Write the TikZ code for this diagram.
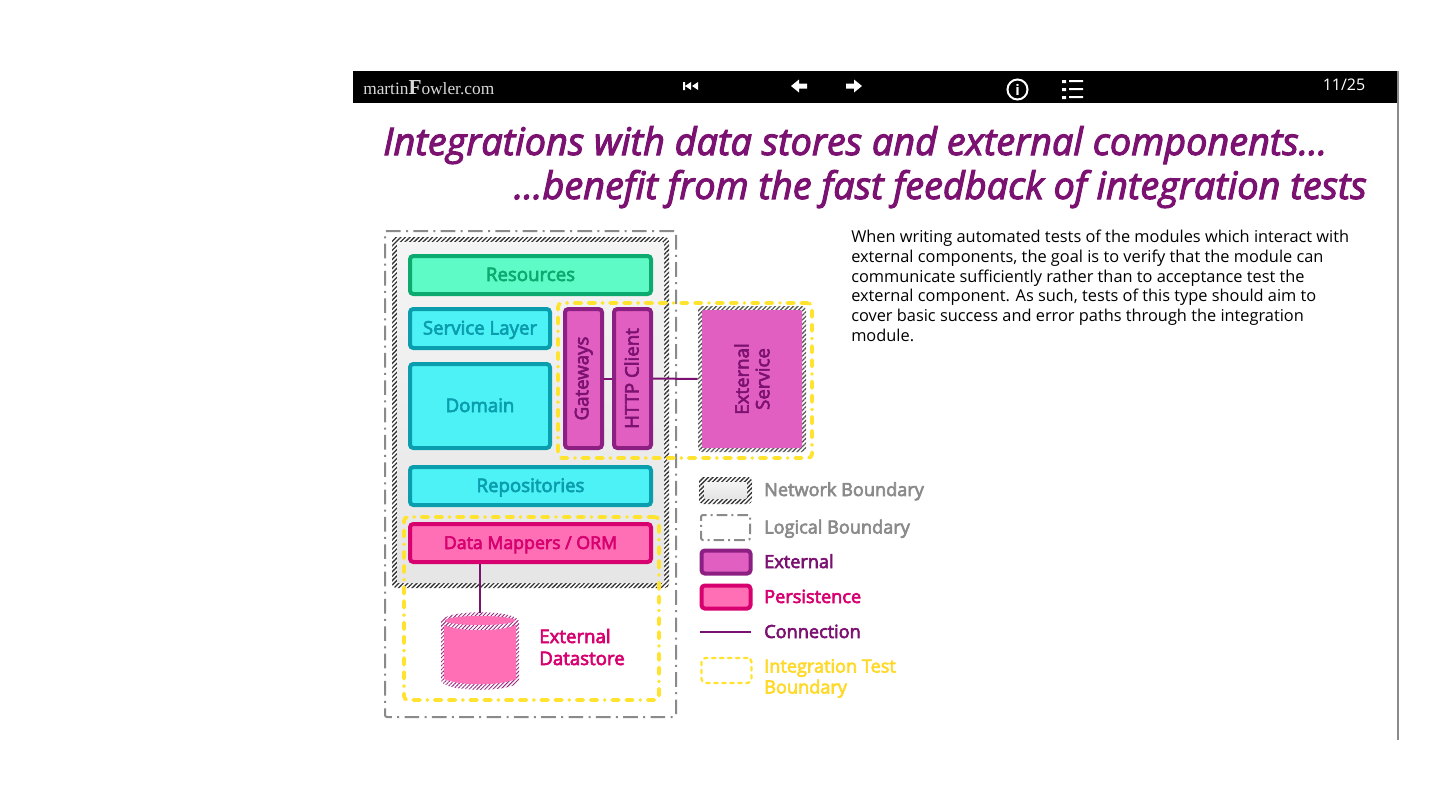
\documentclass[tikz,border=0pt]{standalone}
\usepackage{fontspec}
\setmainfont{Open Sans}
\newfontfamily\logofont{Liberation Serif}
\newfontfamily\semifont[FakeBold=3.4]{Open Sans}
\newfontfamily\titlefont[ItalicFeatures={FakeBold=2.8}]{Open Sans}
\usetikzlibrary{patterns.meta}
\definecolor{conncolor}{HTML}{7B1170}
\definecolor{resfill}{HTML}{5FFBC6}
\definecolor{resline}{HTML}{0DAA70}
\definecolor{corefill}{HTML}{4CF2F6}
\definecolor{coreline}{HTML}{0A9DAE}
\definecolor{extfill}{HTML}{E25FC2}
\definecolor{extline}{HTML}{8C1F82}
\definecolor{perfill}{HTML}{FF6FB5}
\definecolor{perline}{HTML}{D6006F}
\definecolor{boundgray}{HTML}{8A8A8A}
\definecolor{testyellow}{HTML}{FFE32E}
\newcommand{\sidelabel}[1]{\rotatebox{90}{\rule[-1.5pt]{0pt}{12pt}#1}}
\tikzset{
  boxsize/.style 2 args={minimum width=#1*0.75pt,minimum height=#2*0.75pt,inner sep=0pt},
  solidbox/.style 2 args={draw=#2,fill=#1,line width=3pt,rounded corners=2.5pt,font=\semifont\fontsize{14}{16}\selectfont,text=#2},
  flatlabel/.style={text height=10.5pt,text depth=1.5pt},
  hatchbox/.style n args={4}{rounded corners=3pt,inner sep=0pt,
    preaction={fill=white},
    pattern={Lines[angle=45,distance=2.4pt,line width=1pt]},pattern color=#1,
    path picture={\shade[reset cm,rounded corners=1.5pt,top color=#2,bottom color=#3]
      ([shift={(#4,-#4)}]path picture bounding box.north west) rectangle
      ([shift={(-#4,#4)}]path picture bounding box.south east);}},
  logicalbox/.style={draw=boundgray,line width=1.5pt,rounded corners=1.5pt,dash pattern=on 11pt off 4pt on 1.5pt off 4pt},
  testbox/.style={draw=testyellow,line width=2.8pt,rounded corners=3pt,line cap=round,
    dash pattern=on 5pt off 5.5pt on 5pt off 5.5pt on 0.1pt off 5.5pt},
  connline/.style={draw=conncolor,line width=1.5pt},
  legendtext/.style={anchor=base west,inner sep=0pt,align=left,font=\semifont\fontsize{13.6}{15.7}\selectfont},
  toolicon/.style={fill=white,draw=none},
}
\begin{document}
\begin{tikzpicture}[x=0.75pt,y=0.75pt,yscale=-1,xscale=1]
\useasboundingbox (0,0) rectangle (1440,810);

%Top bar
\node[fill=black,boxsize={1044}{32},anchor=north west] (topbar) at (353,71) {};
\node[fill=boundgray,boxsize={2}{669},anchor=north west] (sideline) at (1397,71) {};

% Text Node
\node[anchor=base west,inner sep=0pt,text=white!85!black,font=\logofont\fontsize{13}{16}\selectfont] (logo) at (363,94) {martin{\fontsize{16}{16}\selectfont\bfseries F}owler.com};
\node[anchor=center,inner sep=0pt,text=white,font=\fontsize{12}{14}\selectfont] (pagenum) at (1344,85) {11/25};

%Toolbar icons
\fill[toolicon] (683,82) rectangle (685,90) (691,82) -- (691,90) -- (685,86) -- cycle (698,82) -- (698,90) -- (692,86) -- cycle;
\fill[toolicon] (791,86) -- (799,79.5) -- (799,83.5) -- (807,83.5) -- (807,88.5) -- (799,88.5) -- (799,92.5) -- cycle;
\fill[toolicon] (862,86) -- (854,79.5) -- (854,83.5) -- (846,83.5) -- (846,88.5) -- (854,88.5) -- (854,92.5) -- cycle;
\node[circle,draw=white,line width=1.5pt,text=white,boxsize={20}{20},font=\bfseries\fontsize{11}{12}\selectfont] (info) at (1017.5,89.5) {i};
\fill[toolicon] (1062,80) rectangle (1066,83) (1062,88) rectangle (1066,91) (1062,96) rectangle (1066,99)
  (1069,80) rectangle (1083,82) (1069,88) rectangle (1083,90) (1069,96) rectangle (1083,98);

% Text Node
\node[anchor=base west,inner sep=0pt,text=conncolor,font=\titlefont\itshape\fontsize{28.4}{30}\selectfont] (titleone) at (383,155) {Integrations with data stores and external components...};
\node[anchor=base east,inner sep=0pt,text=conncolor,font=\titlefont\itshape\fontsize{28.4}{30}\selectfont] (titletwo) at (1367,199) {...benefit from the fast feedback of integration tests};
\node[anchor=north west,inner sep=0pt,align=left,font=\fontsize{12.27}{14.8}\selectfont] (bodytext) at (851,230) {When writing automated tests of the modules which interact with\\
external components, the goal is to verify that the module can\\
communicate sufficiently rather than to acceptance test the\\
external component. As such, tests of this type should aim to\\
cover basic success and error paths through the integration\\
module.};

%Boundaries
\node[logicalbox,boxsize={291}{486}] (logical) at (530.5,474) {};
\node[hatchbox={black!80}{black!4}{black!10}{3.75pt},boxsize={277}{351}] (network) at (530.5,412.5) {};
\node[testbox,boxsize={254}{155}] (testone) at (685,380.5) {};
\node[testbox,boxsize={255}{183}] (testtwo) at (531.5,608.5) {};

%Layers
\node[solidbox={resfill}{resline},flatlabel,boxsize={241}{38}] (resources) at (530.5,275) {Resources};
\node[solidbox={corefill}{coreline},flatlabel,boxsize={140}{39}] (service) at (480,328.5) {Service Layer};
\node[solidbox={corefill}{coreline},flatlabel,boxsize={140}{84}] (domain) at (480,406) {Domain};
\node[solidbox={extfill}{extline},boxsize={37}{139},text=conncolor] (gateways) at (583.5,378.5) {\sidelabel{Gateways}};
\node[solidbox={extfill}{extline},boxsize={37}{139},text=conncolor] (http) at (632.5,378.5) {\sidelabel{HTTP Client}};
\node[solidbox={corefill}{coreline},flatlabel,boxsize={241}{38}] (repositories) at (530.5,486) {Repositories};
\node[solidbox={perfill}{perline},flatlabel,boxsize={241}{38},font=\semifont\fontsize{13.3}{16}\selectfont] (mappers) at (530.5,543) {Data Mappers / ORM};

%External service
\node[hatchbox={black!65}{extfill}{extfill}{3pt},boxsize={108}{146}] (extservice) at (752,379) {};
\node[text=conncolor,inner sep=0pt,font=\semifont\fontsize{14}{15.5}\selectfont,align=center,rotate=90] (extlabel) at (752,379) {External\\Service};

%External datastore
\node[boxsize={78}{76},outer sep=0pt] (datastore) at (480,651) {};
\fill[preaction={fill=white},pattern={Lines[angle=45,distance=2.1pt,line width=0.7pt]},pattern color=conncolor!75!perfill]
  (441,622) .. controls (441,609) and (519,609) .. (519,622) -- (519,680) .. controls (519,693) and (441,693) .. (441,680) -- cycle;
\fill[perfill] (444,625) .. controls (460,632) and (500,632) .. (516,625) -- (516,679) .. controls (500,686) and (460,686) .. (444,679) -- cycle;
\fill[perfill] (480,620.5) ellipse [x radius=35,y radius=4.5];
\node[anchor=west,inner sep=0pt,align=left,text=perline,font=\semifont\fontsize{14}{16.5}\selectfont] (storelabel) at (539,647) {External\\Datastore};

%Connections
\draw[connline] (gateways.east) -- (http.west);
\draw[connline] (http.east) -- (extservice.west);
\draw[connline] (mappers.south -| datastore.north) -- (datastore.north);

%Legend
\node[hatchbox={black!80}{black!3}{black!12}{3.75pt},boxsize={53}{27}] (legnetwork) at (725.5,490.5) {};
\node[logicalbox,boxsize={49}{25},dash pattern=on 8pt off 3pt on 1.5pt off 3pt] (leglogical) at (725.5,527.5) {};
\node[solidbox={extfill}{extline},boxsize={49}{23}] (legexternal) at (726,562) {};
\node[solidbox={perfill}{perline},boxsize={49}{23}] (legpersist) at (726,597) {};
\coordinate (legconnstart) at (700,632);
\coordinate (legconnend) at (751,632);
\draw[connline] (legconnstart) -- (legconnend);
\node[testbox,boxsize={50}{25},line width=1.8pt,dash pattern=on 2.5pt off 3.5pt] (legtest) at (726.5,670.5) {};

% Text Node
\node[legendtext,text=boundgray] (txtnetwork) at (764,496) {Network Boundary};
\node[legendtext,text=boundgray] (txtlogical) at (764,533.5) {Logical Boundary};
\node[legendtext,text=conncolor] (txtexternal) at (764,568) {External};
\node[legendtext,text=perline] (txtpersist) at (764,603) {Persistence};
\node[legendtext,text=conncolor] (txtconn) at (764,638) {Connection};
\node[legendtext,anchor=west,text=testyellow!90!orange] (txttest) at (764,678.5) {Integration Test\\Boundary};
\end{tikzpicture}
\end{document}
